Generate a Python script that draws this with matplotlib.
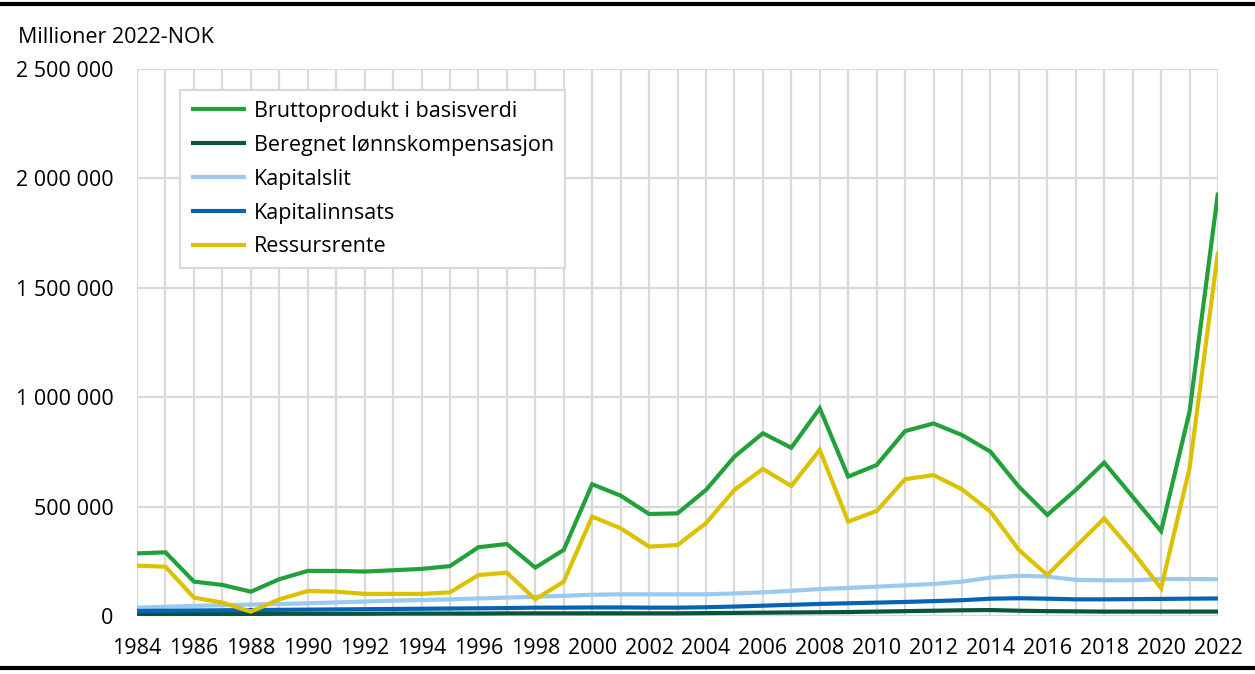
import numpy as np
import matplotlib
matplotlib.use("Agg")
from matplotlib import pyplot as plt
from matplotlib.ticker import FuncFormatter, MultipleLocator

plt.rcParams["font.family"] = ["Open Sans", "DejaVu Sans"]

years = list(range(1984, 2023))

brutto = [286, 291, 157, 142, 111, 168, 206, 206, 203, 209, 215, 228, 314, 329, 221, 302,
          602, 550, 466, 469, 576, 728, 835, 769, 949, 637, 690, 845, 880, 827, 751, 591,
          462, 576, 701, 545, 388, 934, 1935]
lonn = [8, 8, 9, 9, 9, 10, 10, 10, 10, 11, 11, 11, 11, 12, 12, 12,
        12, 12, 12, 12, 13, 14, 15, 16, 17, 18, 20, 22, 24, 26, 27, 24,
        22, 21, 20, 20, 20, 20, 20]
kapitalslit = [38, 42, 46, 49, 52, 55, 58, 62, 66, 70, 73, 76, 80, 84, 88, 92,
               97, 99, 99, 99, 99, 103, 108, 115, 123, 128, 134, 140, 146, 157, 175, 184,
               180, 165, 163, 163, 169, 169, 168]
kapitalinnsats = [23, 24, 25, 26, 27, 28, 29, 30, 31, 32, 33, 34, 35, 36, 38, 38,
                  39, 39, 38, 38, 40, 43, 47, 51, 55, 58, 61, 64, 68, 72, 79, 81,
                  79, 76, 76, 77, 78, 79, 80]
ressurs = [230, 225, 84, 61, 20, 76, 114, 111, 101, 101, 101, 108, 187, 198, 76, 157,
           454, 401, 317, 324, 424, 576, 672, 594, 759, 431, 480, 625, 644, 579, 477, 302,
           187, 317, 446, 294, 127, 675, 1665]

series = [
    ("Bruttoprodukt i basisverdi", brutto, "#22a13a"),
    ("Beregnet lønnskompensasjon", lonn, "#05553f"),
    ("Kapitalslit", kapitalslit, "#9cc9ee"),
    ("Kapitalinnsats", kapitalinnsats, "#0764b2"),
    ("Ressursrente", ressurs, "#dbc100"),
]

fs = 15.5
fig = plt.figure(figsize=(12.55, 6.74), dpi=100)
ax = fig.add_axes([0.1092, 0.0861, 0.8613, 0.8115])

for name, vals, col in series:
    ax.plot(years, np.array(vals) * 1000, color=col, lw=3, label=name,
            solid_capstyle="butt", solid_joinstyle="miter")

ax.set_xlim(1984, 2022)
ax.set_ylim(0, 2500000)
ax.xaxis.set_major_locator(MultipleLocator(2))
ax.xaxis.set_minor_locator(MultipleLocator(1))
ax.yaxis.set_major_locator(MultipleLocator(500000))
ax.yaxis.set_major_formatter(FuncFormatter(lambda v, p: f"{int(v):,}".replace(",", " ")))
ax.grid(True, which="both", color="#d9d9d9", lw=1.6)
ax.set_axisbelow(True)
ax.tick_params(which="both", length=0, labelsize=fs, colors="#000000")
ax.tick_params(axis="x", pad=16)
ax.tick_params(axis="y", pad=17)
for s in ax.spines.values():
    s.set_visible(False)

leg = ax.legend(loc="upper left", bbox_to_anchor=(0.0398, 0.9616), borderaxespad=0,
                fontsize=fs, frameon=True, fancybox=False, edgecolor="#d9d9d9",
                framealpha=1, handlelength=2.55, handletextpad=0.4,
                labelspacing=0.6, borderpad=0.5)
leg.get_frame().set_linewidth(1.6)

fig.text(0.0145, 0.945, "Millioner 2022-NOK", fontsize=fs, va="center", ha="left")

fig.add_artist(plt.Line2D([0, 1], [0.994, 0.994], color="black", lw=3, transform=fig.transFigure))
fig.add_artist(plt.Line2D([0, 1], [0.009, 0.009], color="black", lw=3, transform=fig.transFigure))

fig.savefig("out.png", dpi=100)
